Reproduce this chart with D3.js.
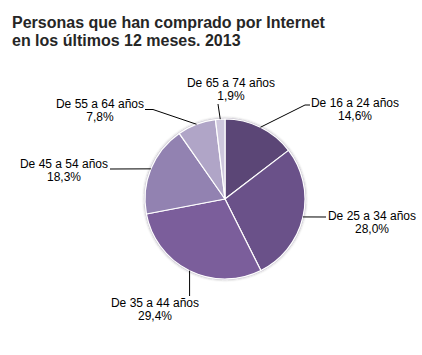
<!DOCTYPE html>
<html><head><meta charset="utf-8">
<script src="https://cdn.jsdelivr.net/npm/d3@7"></script>
<style>html,body{margin:0;padding:0;background:#fff;}svg{display:block;}</style>
</head><body>
<script>
const categories = ["De 16 a 24 años","De 25 a 34 años","De 35 a 44 años","De 45 a 54 años","De 55 a 64 años","De 65 a 74 años"];
const values = [14.6, 28.0, 29.4, 18.3, 7.8, 1.9];
const valueLabels = ["14,6%","28,0%","29,4%","18,3%","7,8%","1,9%"];
const colors = ["#5b4676","#6a5189","#7b5e9b","#9282b1","#b0a5c7","#cec7dd"];
const titleLines = ["Personas que han comprado por Internet","en los últimos 12 meses. 2013"];

// label layout
const labelLayout = [
  {elbow:[305,105], end:[310,105], tx:355, ty:107},
  {elbow:null, end:[326,217], tx:372, ty:219.5},
  {elbow:null, end:[null,296], tx:155, ty:307},
  {elbow:null, end:[110,169], tx:64, ty:167.5},
  {elbow:[153,109.5], end:[145,109.5], tx:100, ty:108},
  {elbow:null, end:[218,104], tx:231, ty:86.8}
];

const W=422,H=355, cx=225, cy=199, R=80;
const svg=d3.select("body").append("svg").attr("width",W).attr("height",H);

svg.append("g").selectAll("text").data(titleLines).join("text")
  .attr("x",12).attr("y",(d,i)=>28+i*18)
  .attr("font-family","Liberation Sans, Arial, sans-serif")
  .attr("font-size",16).attr("font-weight","bold").attr("fill","#262626")
  .text(d=>d);

const data = categories.map((c,i)=>({cat:c,value:values[i],label:valueLabels[i],color:colors[i],lay:labelLayout[i]}));
const pie=d3.pie().value(d=>d.value).sort(null);
const arcs=pie(data);
const arc=d3.arc().innerRadius(0).outerRadius(R);

const defs=svg.append("defs");
const f=defs.append("filter").attr("id","sh").attr("x","-20%").attr("y","-20%").attr("width","140%").attr("height","140%");
f.append("feGaussianBlur").attr("in","SourceAlpha").attr("stdDeviation",1.2).attr("result","b");
f.append("feFlood").attr("flood-color","#000").attr("flood-opacity",0.25);
f.append("feComposite").attr("in2","b").attr("operator","in").attr("result","s");
const fm=f.append("feMerge"); fm.append("feMergeNode").attr("in","s"); fm.append("feMergeNode").attr("in","SourceGraphic");

const g=svg.append("g").attr("transform",`translate(${cx},${cy})`);
g.append("circle").attr("r",R+0.5).attr("fill","#fff").attr("stroke","#d4d0da").attr("stroke-width",1.5).attr("filter","url(#sh)");
g.selectAll("path").data(arcs).join("path")
  .attr("d",arc).attr("fill",d=>d.data.color)
  .attr("stroke","#fff").attr("stroke-width",1.2).attr("stroke-linejoin","round");

// leader lines and labels
const edge=d3.arc().innerRadius(R).outerRadius(R);
arcs.forEach(a=>{
  const [ex,ey]=edge.centroid(a);
  const p0=[cx+ex, cy+ey];
  const L=a.data.lay;
  const pts=[p0];
  if(L.elbow) pts.push(L.elbow);
  pts.push([L.end[0]==null?p0[0]:L.end[0], L.end[1]==null?p0[1]:L.end[1]]);
  svg.append("path").attr("d",d3.line()(pts)).attr("fill","none").attr("stroke","#000").attr("stroke-width",1);
  const t=svg.append("text").attr("text-anchor","middle")
    .attr("font-family","Liberation Sans, Arial, sans-serif").attr("font-size",12).attr("fill","#000");
  t.append("tspan").attr("x",L.tx).attr("y",L.ty).text(a.data.cat);
  t.append("tspan").attr("x",L.tx).attr("y",L.ty+13.3).text(a.data.label);
});
</script>
</body></html>
